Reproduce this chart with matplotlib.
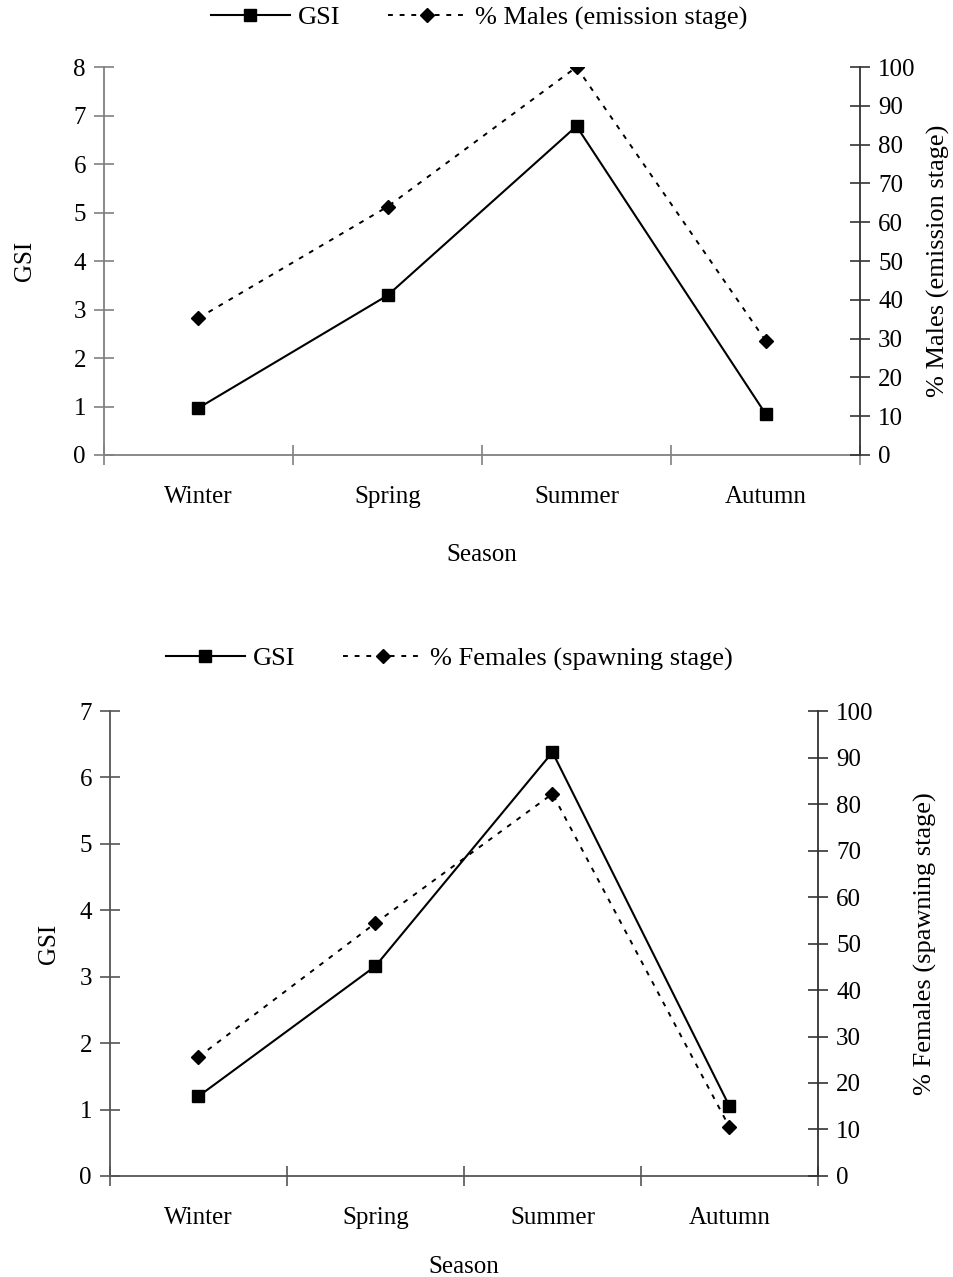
import matplotlib
matplotlib.use("Agg")
import matplotlib.pyplot as plt
import numpy as np

plt.rcParams['font.family'] = ['Liberation Serif', 'DejaVu Serif']

seasons = ["Winter", "Spring", "Summer", "Autumn"]

# Top panel (males)
gsi_males = [0.97, 3.29, 6.78, 0.85]
pct_males = [35.3, 64.0, 100.0, 29.5]

# Bottom panel (females)
gsi_females = [1.20, 3.16, 6.38, 1.05]
pct_females = [25.6, 54.4, 82.2, 10.5]

FS = 18
LFS = 19

fig = plt.figure(figsize=(9.54, 12.77), dpi=100)


def panel(rect, gsi, pct, gsi_max, right_label, legend_xy, axcol,
          gsi_lab_x, right_lab_x, xlab_pad):
    ax = fig.add_axes(rect)
    ax2 = ax.twinx()
    x = np.arange(len(seasons)) + 0.5
    l1, = ax.plot(x, gsi, color='black', lw=1.5, marker='s', ms=8,
                  mfc='black', mec='black', label='GSI', zorder=3)
    l2, = ax2.plot(x, pct, color='black', lw=1.4, ls=(0, (2.5, 3.5)), marker='D',
                   ms=7, mfc='black', mec='black',
                   label=right_label, zorder=3)
    ax.set_xlim(0, len(seasons))
    ax.set_ylim(0, gsi_max)
    ax2.set_ylim(0, 100)
    ax.set_yticks(np.arange(0, gsi_max + 1, 1))
    ax2.set_yticks(np.arange(0, 101, 10))
    ax.set_xticks(np.arange(0, len(seasons) + 1))
    ax.set_xticklabels([])
    ax.set_xticks(x, minor=True)
    ax.set_xticklabels(seasons, minor=True)
    ax.tick_params(axis='x', which='minor', length=0, pad=22, labelsize=FS)
    ax.tick_params(axis='x', which='major', direction='inout', length=14,
                   color=axcol, width=1.2)
    ax.tick_params(axis='y', direction='inout', length=14, color=axcol,
                   width=1.2, labelsize=FS, pad=6)
    ax2.tick_params(axis='y', direction='inout', length=14, color='#333333',
                    width=1.2, labelsize=FS, pad=6)
    for a in (ax, ax2):
        a.spines['top'].set_visible(False)
    ax.spines['left'].set_color(axcol)
    ax.spines['bottom'].set_color(axcol)
    ax.spines['right'].set_visible(False)
    ax2.spines['left'].set_visible(False)
    ax2.spines['bottom'].set_visible(False)
    ax2.spines['right'].set_color('#333333')
    for a in (ax, ax2):
        for s in a.spines.values():
            s.set_linewidth(1.3)
    ax.set_xlabel('Season', fontsize=FS, labelpad=xlab_pad)
    ax.set_ylabel('GSI', fontsize=FS)
    ax.yaxis.set_label_coords(gsi_lab_x, 0.5)
    ax2.set_ylabel(right_label, fontsize=LFS)
    ax2.yaxis.set_label_coords(right_lab_x, 0.5)
    fig.legend([l1, l2], ['GSI', right_label], loc='center',
               bbox_to_anchor=legend_xy, ncol=2, frameon=False,
               fontsize=LFS, handlelength=3.0, columnspacing=1.8,
               handletextpad=0.3)
    return ax, ax2


panel([0.109, 0.6437, 0.7925, 0.3038], gsi_males, pct_males, 8,
      '% Males (emission stage)', (0.502, 0.986), '#808080', -0.09, 1.088, 26)
panel([0.1153, 0.0791, 0.7421, 0.3641], gsi_females, pct_females, 7,
      '% Females (spawning stage)', (0.471, 0.484), '#555555', -0.07, 1.135, 20)

fig.savefig('out.png', dpi=100)
